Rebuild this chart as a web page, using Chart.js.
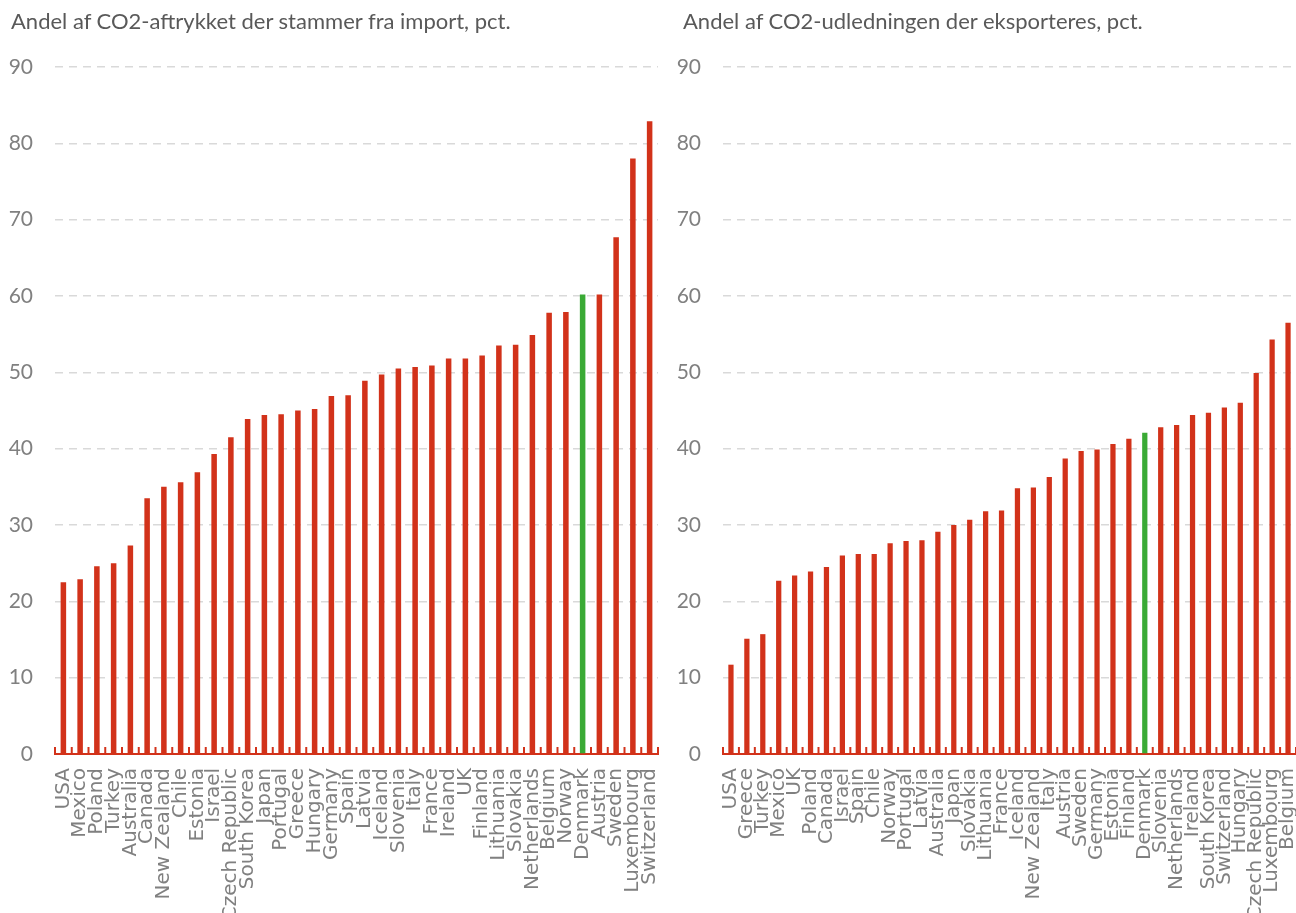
<!DOCTYPE html>
<html>
<head>
  <meta charset="utf-8">
  <script src="https://cdn.jsdelivr.net/npm/chart.js@4.4.1/dist/chart.umd.min.js"></script>
  <style>
    * { margin: 0; padding: 0; box-sizing: border-box; }
    body { width: 1296px; height: 913px; overflow: hidden; background: #fff; position: relative; }
    .panel { position: absolute; top: 0; height: 913px; }
    .panel h2 {
      position: absolute; top: 7px; left: 11px; white-space: nowrap;
      font: 400 22px Lato, "Open Sans", sans-serif; color: #595959;
    }
    #left { left: 0; width: 660px; }
    #right { left: 672px; width: 624px; }
  </style>
</head>
<body>
  <div class="panel" id="left">
    <canvas id="importChart"></canvas>
    <h2>Andel af CO2-aftrykket der stammer fra import, pct.</h2>
  </div>
  <div class="panel" id="right">
    <canvas id="exportChart"></canvas>
    <h2>Andel af CO2-udledningen der eksporteres, pct.</h2>
  </div>

  <script>
    const importCountries = ['USA', 'Mexico', 'Poland', 'Turkey', 'Australia', 'Canada', 'New Zealand', 'Chile',
      'Estonia', 'Israel', 'Czech Republic', 'South Korea', 'Japan', 'Portugal', 'Greece', 'Hungary', 'Germany',
      'Spain', 'Latvia', 'Iceland', 'Slovenia', 'Italy', 'France', 'Ireland', 'UK', 'Finland', 'Lithuania',
      'Slovakia', 'Netherlands', 'Belgium', 'Norway', 'Denmark', 'Austria', 'Sweden', 'Luxembourg', 'Switzerland'];
    const importShare = [22.5, 22.9, 24.6, 25.0, 27.3, 33.5, 35.0, 35.6, 36.9, 39.3, 41.5, 43.9, 44.4, 44.5, 45.0,
      45.2, 46.9, 47.0, 48.9, 49.7, 50.5, 50.7, 50.9, 51.8, 51.8, 52.2, 53.5, 53.6, 54.9, 57.8, 57.9, 60.2, 60.2,
      67.7, 78.0, 82.9];

    const exportCountries = ['USA', 'Greece', 'Turkey', 'Mexico', 'UK', 'Poland', 'Canada', 'Israel', 'Spain',
      'Chile', 'Norway', 'Portugal', 'Latvia', 'Australia', 'Japan', 'Slovakia', 'Lithuania', 'France', 'Iceland',
      'New Zealand', 'Italy', 'Austria', 'Sweden', 'Germany', 'Estonia', 'Finland', 'Denmark', 'Slovenia',
      'Netherlands', 'Ireland', 'South Korea', 'Switzerland', 'Hungary', 'Czech Republic', 'Luxembourg', 'Belgium'];
    const exportShare = [11.7, 15.1, 15.7, 22.7, 23.4, 23.9, 24.5, 26.0, 26.2, 26.2, 27.6, 27.9, 28.0, 29.1, 30.0,
      30.7, 31.8, 31.9, 34.8, 34.9, 36.3, 38.7, 39.7, 39.9, 40.6, 41.3, 42.1, 42.8, 43.1, 44.4, 44.7, 45.4, 46.0,
      49.9, 54.3, 56.5];

    const highlight = 'Denmark';
    const yMax = 90;
    const yStep = 10;

    const RED = '#d2321a';
    const GREEN = '#3aaa35';
    const GREY = '#808080';

    // small red tick marks pointing up from the x axis, between categories
    const upTicks = {
      id: 'upTicks',
      afterDatasetsDraw(chart) {
        const xs = chart.scales.x;
        const bottom = chart.chartArea.bottom;
        const ctx = chart.ctx;
        ctx.save();
        ctx.strokeStyle = RED;
        ctx.lineWidth = 2;
        for (let i = 0; i <= chart.data.labels.length; i++) {
          const px = xs.getPixelForValue(i - 0.5);
          ctx.beginPath();
          ctx.moveTo(px, bottom);
          ctx.lineTo(px, bottom - 7);
          ctx.stroke();
        }
        ctx.restore();
      }
    };

    function makeChart(id, labels, values, axisWidth, padRight) {
      new Chart(document.getElementById(id), {
        type: 'bar',
        data: {
          labels: labels,
          datasets: [{
            data: values,
            backgroundColor: labels.map(c => c === highlight ? GREEN : RED),
            borderWidth: 0,
            barPercentage: 0.33,
            categoryPercentage: 1
          }]
        },
        options: {
          responsive: true,
          maintainAspectRatio: false,
          animation: false,
          layout: { padding: { top: 67, right: padRight, left: 0, bottom: 0 } },
          plugins: { legend: { display: false }, tooltip: { enabled: false }, title: { display: false } },
          scales: {
            x: {
              grid: { display: false, drawTicks: false },
              border: { display: true, color: RED, width: 2 },
              ticks: {
                autoSkip: false, minRotation: 90, maxRotation: 90, padding: 14,
                color: GREY, font: { family: 'DejaVu Sans', size: 20 }
              },
              afterFit: s => {
                s.height = 159;
                s.paddingLeft = 0;
                s.paddingRight = 0;
              }
            },
            y: {
              min: 0, max: yMax,
              grid: {
                drawTicks: false, lineWidth: 1.5,
                color: c => c.tick.value === 0 ? 'rgba(0,0,0,0)' : '#d9d9d9'
              },
              border: { display: false, dash: [8, 6] },
              ticks: {
                stepSize: yStep, padding: 22, color: GREY,
                font: { family: 'Lato', size: 21 }
              },
              afterFit: s => { s.width = axisWidth; }
            }
          }
        },
        plugins: [upTicks]
      });
    }

    makeChart('importChart', importCountries, importShare, 55, 2);
    makeChart('exportChart', exportCountries, exportShare, 51, 0);
  </script>
</body>
</html>
